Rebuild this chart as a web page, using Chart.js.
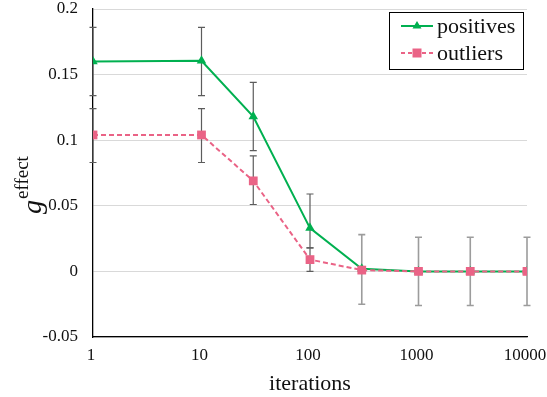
<!DOCTYPE html>
<html>
<head>
<meta charset="utf-8">
<script src="https://cdn.jsdelivr.net/npm/chart.js@4/dist/chart.umd.min.js"></script>
<style>
  html, body { margin: 0; padding: 0; background: #fff; }
  #wrap { width: 547px; height: 397px; }
</style>
</head>
<body>
<div id="wrap"><canvas id="chart" width="547" height="397"></canvas></div>
<script>
// data
const iterations = [1, 10, 30, 100, 300, 1000, 3000, 10000];
const xTickValues = [1, 10, 100, 1000, 10000];
const yTickValues = [-0.05, 0, 0.05, 0.1, 0.15, 0.2];

const positives = [0.160, 0.1605, 0.118, 0.033, 0.002, 0.0, 0.0, 0.0];
const positivesHigh = [0.186, 0.186, 0.144, 0.059, null, null, null, null];
const positivesLow = [0.134, 0.134, 0.092, 0.018, null, null, null, null];

const outliers = [0.104, 0.104, 0.069, 0.009, 0.001, 0.0, 0.0, 0.0];
const outliersHigh = [0.124, 0.124, 0.088, 0.018, 0.028, 0.026, 0.026, 0.026];
const outliersLow = [0.083, 0.083, 0.051, 0.0, -0.025, -0.026, -0.026, -0.026];

const green = '#00b050';
const pink = '#ea6386';
const serif = "'Liberation Serif', 'DejaVu Serif', serif";

function pts(vals) {
  return vals.map((v, i) => ({x: iterations[i], y: v}));
}

const errorSets = [
  {high: positivesHigh, low: positivesLow},
  {high: outliersHigh, low: outliersLow}
];

// error bars, drawn under the lines; the ones near zero are lighter
const errorBars = {
  id: 'errorBars',
  beforeDatasetsDraw(chart) {
    const ctx = chart.ctx;
    const xs = chart.scales.x, ys = chart.scales.y;
    ctx.save();
    errorSets.forEach(set => {
      iterations.forEach((it, i) => {
        if (set.high[i] == null) return;
        const light = it >= 300;
        ctx.strokeStyle = light ? '#9c9c9c' : '#5c5c5c';
        ctx.lineWidth = light ? 1.6 : 1.2;
        const px = xs.getPixelForValue(it);
        const top = ys.getPixelForValue(set.high[i]);
        const bot = ys.getPixelForValue(set.low[i]);
        ctx.beginPath();
        ctx.moveTo(px, top); ctx.lineTo(px, bot);
        ctx.moveTo(px - 3.5, top); ctx.lineTo(px + 3.5, top);
        ctx.moveTo(px - 3.5, bot); ctx.lineTo(px + 3.5, bot);
        ctx.stroke();
      });
    });
    ctx.restore();
  }
};

// y title (g^effect) and boxed legend
const extras = {
  id: 'extras',
  afterDraw(chart) {
    const ctx = chart.ctx;
    ctx.save();
    ctx.translate(41, 214);
    ctx.rotate(-Math.PI / 2);
    ctx.fillStyle = '#111';
    ctx.textBaseline = 'alphabetic';
    ctx.textAlign = 'left';
    ctx.font = "italic 28px " + serif;
    ctx.fillText('g', 0, 0);
    const gw = ctx.measureText('g').width;
    ctx.font = "19px " + serif;
    ctx.fillText('effect', gw + 1, -13);
    ctx.restore();

    // legend
    ctx.save();
    ctx.fillStyle = '#fff';
    ctx.fillRect(389.5, 12.5, 134, 57);
    ctx.strokeStyle = '#000';
    ctx.lineWidth = 1;
    ctx.strokeRect(389.5, 12.5, 134, 57);
    const rows = [
      {label: 'positives', color: green, dash: [], y: 26, marker: 'tri'},
      {label: 'outliers', color: pink, dash: [4, 3], y: 53, marker: 'sq'}
    ];
    rows.forEach(r => {
      ctx.strokeStyle = r.color;
      ctx.lineWidth = 2;
      ctx.setLineDash(r.dash);
      ctx.beginPath();
      ctx.moveTo(401, r.y); ctx.lineTo(433, r.y);
      ctx.stroke();
      ctx.setLineDash([]);
      ctx.fillStyle = r.color;
      ctx.beginPath();
      if (r.marker === 'tri') {
        ctx.moveTo(417, r.y - 5); ctx.lineTo(421.5, r.y + 2.5); ctx.lineTo(412.5, r.y + 2.5);
        ctx.closePath();
      } else {
        ctx.rect(412.5, r.y - 4.5, 9, 9);
      }
      ctx.fill();
      ctx.fillStyle = '#111';
      ctx.font = "22px " + serif;
      ctx.textBaseline = 'middle';
      ctx.fillText(r.label, 437, r.y + 1);
    });
    ctx.restore();
  }
};

new Chart(document.getElementById('chart').getContext('2d'), {
  type: 'line',
  data: {
    datasets: [
      {
        label: 'positives',
        data: pts(positives),
        borderColor: green,
        backgroundColor: green,
        borderWidth: 2,
        pointStyle: 'triangle',
        pointRadius: 5.5,
        pointBorderWidth: 0,
        tension: 0,
        order: 1
      },
      {
        label: 'outliers',
        data: pts(outliers),
        borderColor: pink,
        backgroundColor: pink,
        borderWidth: 2,
        borderDash: [5, 3],
        pointStyle: 'rect',
        pointRadius: 6.2,
        pointBorderWidth: 0,
        tension: 0,
        order: 0
      }
    ]
  },
  options: {
    responsive: false,
    animation: false,
    layout: {padding: {left: 0, right: 20, top: 9, bottom: 0}},
    plugins: {legend: {display: false}, tooltip: {enabled: false}},
    scales: {
      x: {
        type: 'logarithmic',
        min: 1,
        max: 10000,
        afterBuildTicks: s => { s.ticks = xTickValues.map(v => ({value: v})); },
        afterFit: s => { s.height = 60; s.paddingLeft = 0; s.paddingRight = 0; },
        grid: {display: false, drawTicks: false},
        border: {display: true, color: '#000', width: 1.3},
        ticks: {
          color: '#111',
          font: {family: serif, size: 17, lineHeight: 1},
          padding: 10,
          labelOffset: -2,
          maxRotation: 0,
          autoSkip: false,
          callback: v => String(v)
        },
        title: {
          display: true,
          text: 'iterations',
          color: '#111',
          font: {family: serif, size: 22},
          padding: {top: 0, bottom: 0}
        }
      },
      y: {
        min: -0.05,
        max: 0.2,
        afterBuildTicks: s => { s.ticks = yTickValues.map(v => ({value: v})); },
        afterFit: s => { s.width = 93; s.paddingTop = 0; s.paddingBottom = 0; },
        grid: {color: '#d9d9d9', lineWidth: 1, drawTicks: false},
        border: {display: true, color: '#000', width: 1.3},
        ticks: {
          color: '#111',
          font: {family: serif, size: 17, lineHeight: 1},
          padding: 15,
          callback: v => String(v)
        }
      }
    }
  },
  plugins: [errorBars, extras]
});
</script>
</body>
</html>
